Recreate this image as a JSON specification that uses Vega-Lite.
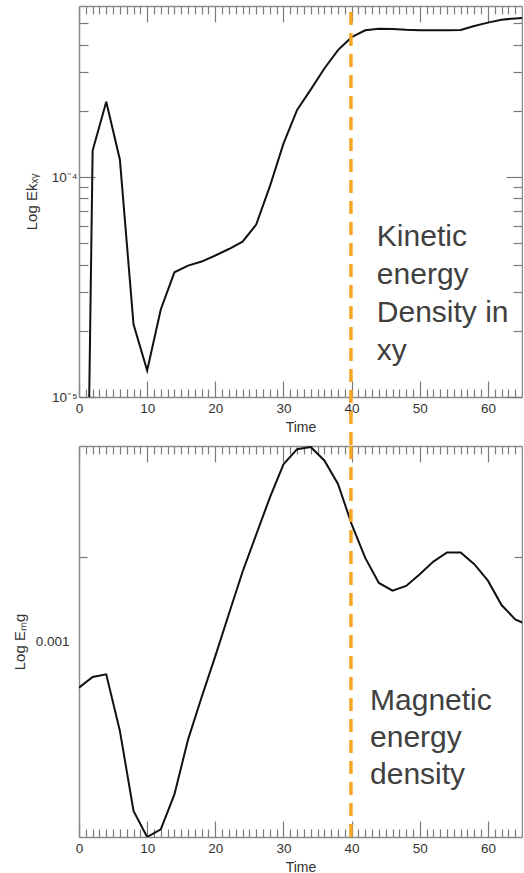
{
  "$schema": "https://vega.github.io/schema/vega-lite/v6.json",
  "padding": {"left": 12, "top": 5, "right": 0, "bottom": 0},
  "background": "white",
  "spacing": 49,
  "bounds": "flush",
  "config": {
    "view": {"stroke": null},
    "font": "Liberation Sans",
    "axis": {
      "domainColor": "#8c8c8c", "domainWidth": 1.5,
      "tickColor": "#7a7a7a", "tickWidth": 1.2,
      "labelColor": "#333333", "labelFontSize": 13.5, "labelFont": "Liberation Sans",
      "titleFont": "Liberation Sans", "titleFontSize": 14, "titleFontWeight": "normal", "titleColor": "#333333",
      "grid": false, "labelOverlap": false, "labelBound": false, "labelFlush": false
    }
  },
  "vconcat": [
    {
      "width": 443,
      "height": 391,
      "resolve": {"axis": {"x": "independent", "y": "independent"}},
      "layer": [
        {
          "data": {"values": [
            {"t": 1.5, "ek": 0.00001}, {"t": 2, "ek": 0.000132}, {"t": 4, "ek": 0.00022}, {"t": 6, "ek": 0.00012},
            {"t": 8, "ek": 0.0000214}, {"t": 10, "ek": 0.0000132}, {"t": 12, "ek": 0.000025}, {"t": 14, "ek": 0.0000369},
            {"t": 16, "ek": 0.0000396}, {"t": 18, "ek": 0.0000413}, {"t": 20, "ek": 0.000044}, {"t": 22, "ek": 0.0000471},
            {"t": 24, "ek": 0.0000509}, {"t": 26, "ek": 0.0000608}, {"t": 28, "ek": 0.0000907}, {"t": 30, "ek": 0.000142},
            {"t": 32, "ek": 0.000202}, {"t": 34, "ek": 0.00025}, {"t": 36, "ek": 0.000312}, {"t": 38, "ek": 0.000378},
            {"t": 40, "ek": 0.000433}, {"t": 42, "ek": 0.000465}, {"t": 44, "ek": 0.000473}, {"t": 46, "ek": 0.000472},
            {"t": 48, "ek": 0.000468}, {"t": 50, "ek": 0.000466}, {"t": 52, "ek": 0.000465}, {"t": 54, "ek": 0.000465},
            {"t": 56, "ek": 0.000467}, {"t": 58, "ek": 0.000487}, {"t": 60, "ek": 0.000504}, {"t": 62, "ek": 0.00052},
            {"t": 64, "ek": 0.000527}, {"t": 66, "ek": 0.00053}
          ]},
          "mark": {"type": "line", "color": "#111111", "strokeWidth": 2, "clip": true},
          "encoding": {
            "x": {
              "field": "t", "type": "quantitative",
              "scale": {"domain": [0, 65], "nice": false, "zero": false},
              "axis": {
                "orient": "bottom", "title": "Time",
                "values": [0,1,2,3,4,5,6,7,8,9,10,11,12,13,14,15,16,17,18,19,20,21,22,23,24,25,26,27,28,29,30,31,32,33,34,35,36,37,38,39,40,41,42,43,44,45,46,47,48,49,50,51,52,53,54,55,56,57,58,59,60,61,62,63,64,65],
                "labelExpr": "datum.value % 10 === 0 ? datum.label : ''",
                "tickSize": {"condition": {"test": "datum.value % 10 === 0", "value": -16}, "value": -8},
                "labelPadding": 20, "titlePadding": -2
              }
            },
            "y": {
              "field": "ek", "type": "quantitative",
              "scale": {"type": "log", "domain": [0.00001, 0.0006], "nice": false},
              "axis": {
                "orient": "left", "title": "Log Ekₓᵧ", "titleFontSize": 15,
                "values": [0.00001, 0.00002, 0.00003, 0.00004, 0.00005, 0.00006, 0.00007, 0.00008, 0.00009, 0.0001, 0.0002, 0.0003, 0.0004, 0.0005],
                "labelExpr": "datum.value === 0.0001 ? '10⁻⁴' : (datum.value === 0.00001 ? '10⁻⁵' : '')",
                "tickSize": {"condition": {"test": "datum.value === 0.0001 || datum.value === 0.00001", "value": -16}, "value": -9},
                "labelPadding": 18, "titlePadding": 12
              }
            }
          }
        },
        {
          "data": {"values": [{"t": 39.9, "y1": 0.000564, "y2": 0.00000598}]},
          "mark": {"type": "rule", "color": "#F6A623", "strokeWidth": 3.5, "strokeDash": [13, 8], "clip": false},
          "encoding": {
            "x": {
              "field": "t", "type": "quantitative",
              "axis": {
                "orient": "top", "title": null, "labels": false,
                "values": [0,1,2,3,4,5,6,7,8,9,10,11,12,13,14,15,16,17,18,19,20,21,22,23,24,25,26,27,28,29,30,31,32,33,34,35,36,37,38,39,40,41,42,43,44,45,46,47,48,49,50,51,52,53,54,55,56,57,58,59,60,61,62,63,64,65],
                "tickSize": {"condition": {"test": "datum.value % 10 === 0", "value": -16}, "value": -8}
              }
            },
            "y": {"field": "y1", "type": "quantitative", "axis": null},
            "y2": {"field": "y2"}
          }
        },
        {
          "data": {"values": [{"t": 43.7, "v": 0.0000488, "label": "Kinetic\nenergy\nDensity in\nxy"}]},
          "mark": {"type": "text", "align": "left", "baseline": "alphabetic", "fontSize": 30, "lineHeight": 38, "lineBreak": "\n", "color": "#404040", "font": "Liberation Sans"},
          "encoding": {
            "x": {"field": "t", "type": "quantitative", "axis": null},
            "y": {
              "field": "v", "type": "quantitative",
              "axis": {
                "orient": "right", "title": null, "labels": false,
                "values": [0.00001, 0.00002, 0.00003, 0.00004, 0.00005, 0.00006, 0.00007, 0.00008, 0.00009, 0.0001, 0.0002, 0.0003, 0.0004, 0.0005],
                "tickSize": {"condition": {"test": "datum.value === 0.0001 || datum.value === 0.00001", "value": -16}, "value": -9}
              }
            },
            "text": {"field": "label"}
          }
        }
      ]
    },
    {
      "width": 443,
      "height": 391,
      "resolve": {"axis": {"x": "independent", "y": "independent"}},
      "layer": [
        {
          "data": {"values": [
            {"t": 0, "emg": 0.000684}, {"t": 2, "emg": 0.000747}, {"t": 4, "emg": 0.000763}, {"t": 6, "emg": 0.000479},
            {"t": 8, "emg": 0.000248}, {"t": 10, "emg": 0.0002}, {"t": 12, "emg": 0.000213}, {"t": 14, "emg": 0.000284},
            {"t": 16, "emg": 0.000446}, {"t": 18, "emg": 0.000633}, {"t": 20, "emg": 0.000887}, {"t": 22, "emg": 0.001257},
            {"t": 24, "emg": 0.001776}, {"t": 26, "emg": 0.00241}, {"t": 28, "emg": 0.00327}, {"t": 30, "emg": 0.0043},
            {"t": 32, "emg": 0.00487}, {"t": 34, "emg": 0.00496}, {"t": 36, "emg": 0.00444}, {"t": 38, "emg": 0.00366},
            {"t": 40, "emg": 0.00263}, {"t": 42, "emg": 0.00199}, {"t": 44, "emg": 0.00162}, {"t": 46, "emg": 0.00152},
            {"t": 48, "emg": 0.00158}, {"t": 50, "emg": 0.00174}, {"t": 52, "emg": 0.00193}, {"t": 54, "emg": 0.00208},
            {"t": 56, "emg": 0.00208}, {"t": 58, "emg": 0.00189}, {"t": 60, "emg": 0.00165}, {"t": 62, "emg": 0.00135},
            {"t": 64, "emg": 0.0012}, {"t": 66, "emg": 0.00114}
          ]},
          "mark": {"type": "line", "color": "#111111", "strokeWidth": 2, "clip": true},
          "encoding": {
            "x": {
              "field": "t", "type": "quantitative",
              "scale": {"domain": [0, 65], "nice": false, "zero": false},
              "axis": {
                "orient": "bottom", "title": "Time",
                "values": [0,1,2,3,4,5,6,7,8,9,10,11,12,13,14,15,16,17,18,19,20,21,22,23,24,25,26,27,28,29,30,31,32,33,34,35,36,37,38,39,40,41,42,43,44,45,46,47,48,49,50,51,52,53,54,55,56,57,58,59,60,61,62,63,64,65],
                "labelExpr": "datum.value % 10 === 0 ? datum.label : ''",
                "tickSize": {"condition": {"test": "datum.value % 10 === 0", "value": -16}, "value": -8},
                "labelPadding": 20, "titlePadding": -2
              }
            },
            "y": {
              "field": "emg", "type": "quantitative",
              "scale": {"type": "log", "domain": [0.0002, 0.005], "nice": false},
              "axis": {
                "orient": "left", "title": "Log Eₘg", "titleFontSize": 15,
                "values": [0.001, 0.002],
                "labelExpr": "datum.value === 0.001 ? '0.001' : ''",
                "tickOpacity": {"condition": {"test": "datum.value === 0.001", "value": 0}, "value": 1},
                "tickSize": -8,
                "labelPadding": 18, "titlePadding": 8
              }
            }
          }
        },
        {
          "data": {"values": [{"t": 39.9}]},
          "mark": {"type": "rule", "color": "#F6A623", "strokeWidth": 3.5, "strokeDash": [13, 8]},
          "encoding": {
            "x": {
              "field": "t", "type": "quantitative",
              "axis": {
                "orient": "top", "title": null, "labels": false,
                "values": [0,1,2,3,4,5,6,7,8,9,10,11,12,13,14,15,16,17,18,19,20,21,22,23,24,25,26,27,28,29,30,31,32,33,34,35,36,37,38,39,40,41,42,43,44,45,46,47,48,49,50,51,52,53,54,55,56,57,58,59,60,61,62,63,64,65],
                "tickSize": {"condition": {"test": "datum.value % 10 === 0", "value": -16}, "value": -8}
              }
            }
          }
        },
        {
          "data": {"values": [{"t": 42.7, "v": 0.000568, "label": "Magnetic\nenergy\ndensity"}]},
          "mark": {"type": "text", "align": "left", "baseline": "alphabetic", "fontSize": 30, "lineHeight": 37, "lineBreak": "\n", "color": "#404040", "font": "Liberation Sans"},
          "encoding": {
            "x": {"field": "t", "type": "quantitative", "axis": null},
            "y": {
              "field": "v", "type": "quantitative",
              "axis": {
                "orient": "right", "title": null, "labels": false,
                "values": [0.002],
                "tickSize": -8
              }
            },
            "text": {"field": "label"}
          }
        }
      ]
    }
  ]
}
